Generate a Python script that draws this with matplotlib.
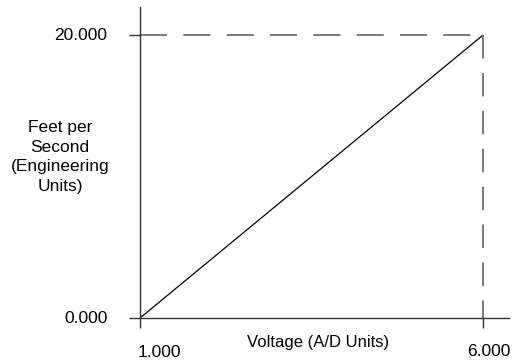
import matplotlib
matplotlib.use("Agg")
import matplotlib.pyplot as plt

# data
voltage = [1.0, 6.0]
fps = [0.0, 20.0]
x_ticks = [1.0, 6.0]
y_ticks = [0.0, 20.0]
x_labels = ["1.000", "6.000"]
y_labels = ["0.000", "20.000"]

plt.rcParams['font.family'] = ['Liberation Sans', 'DejaVu Sans']

fig = plt.figure(figsize=(5.14, 3.62), dpi=100)
ax = fig.add_axes([0.2724, 0.1215, 0.7179, 0.8591])
ax.set_xlim(1.0, 6.379)
ax.set_ylim(0.0, 21.98)

for s in ['top', 'right']:
    ax.spines[s].set_visible(False)
for s in ['left', 'bottom']:
    ax.spines[s].set_color('#333333')
    ax.spines[s].set_linewidth(1.0)

ax.set_xticks(x_ticks)
ax.set_yticks(y_ticks)
ax.set_xticklabels([])
ax.set_yticklabels([])
ax.tick_params(axis='x', direction='out', length=7.5, width=1.0, color='#333333')
ax.tick_params(axis='y', direction='out', length=8, width=1.0, color='#333333')

# transfer line
ax.plot(voltage, fps, color='black', lw=0.9, solid_capstyle='butt')

# dashed guide lines
ax.plot([voltage[0], voltage[1]], [fps[1], fps[1]], color='#6e6e6e', lw=1.3,
        dashes=(15, 9), clip_on=False)
ax.plot([voltage[1], voltage[1]], [fps[1], fps[0]], color='#6e6e6e', lw=1.3,
        dashes=(13, 8), clip_on=False)

# tick labels
fs = 12.5
ax.annotate(y_labels[1], xy=(x_ticks[0], y_ticks[1]), xytext=(-33, 0),
            textcoords='offset pixels', ha='right', va='center', fontsize=fs)
ax.annotate(y_labels[0], xy=(x_ticks[0], y_ticks[0]), xytext=(-32, 0),
            textcoords='offset pixels', ha='right', va='center', fontsize=fs)
ax.annotate(x_labels[0], xy=(x_ticks[0], y_ticks[0]), xytext=(19, -34),
            textcoords='offset pixels', ha='center', va='center', fontsize=fs)
ax.annotate(x_labels[1], xy=(x_ticks[1], y_ticks[0]), xytext=(6, -33),
            textcoords='offset pixels', ha='center', va='center', fontsize=fs)

# axis titles
fig.text(318 / 514, 1 - 343 / 362, "Voltage (A/D Units)", ha='center', va='center',
         fontsize=12)
fig.text(60 / 514, 1 - 157 / 362, "Feet per\nSecond\n(Engineering\nUnits)",
         ha='center', va='center', fontsize=12.5, linespacing=1.38)

fig.savefig("out.png", dpi=100)
